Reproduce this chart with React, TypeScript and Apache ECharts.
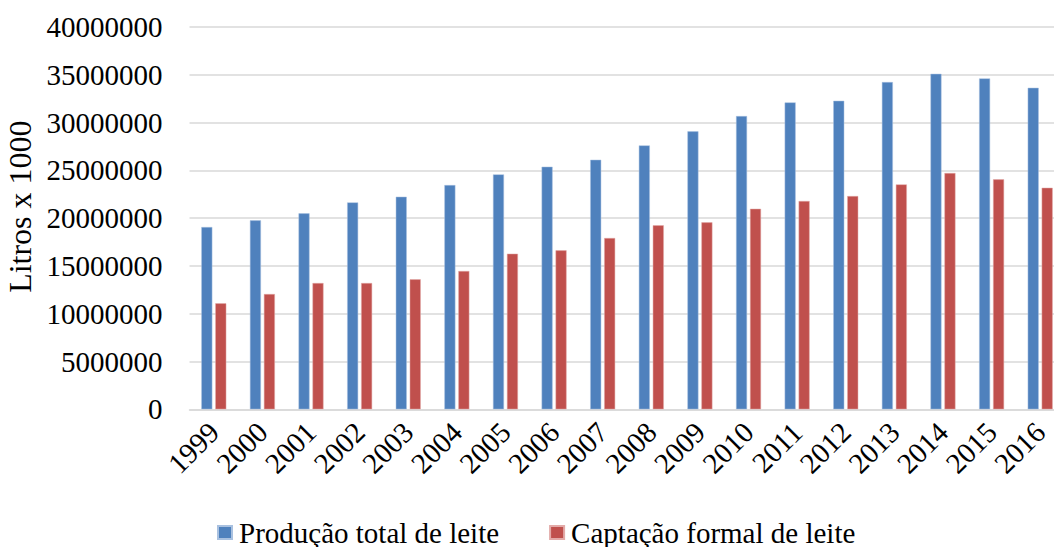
import React, { useEffect, useRef } from "react";
import * as echarts from "echarts";

const years = ["1999","2000","2001","2002","2003","2004","2005","2006","2007","2008","2009","2010","2011","2012","2013","2014","2015","2016"];
const producaoTotal = [19070000,19770000,20500000,21650000,22240000,23460000,24580000,25380000,26110000,27610000,29080000,30680000,32110000,32280000,34240000,35100000,34620000,33640000];
const captacaoFormal = [11090000,12060000,13210000,13210000,13600000,14470000,16280000,16630000,17920000,19250000,19560000,20980000,21790000,22310000,23530000,24720000,24060000,23180000];
const seriesNames = ["Produção total de leite", "Captação formal de leite"];
const yAxisName = "Litros x 1000";

export default function App() {
  const ref = useRef<HTMLDivElement>(null);
  useEffect(() => {
    if (!ref.current) return;
    const chart = echarts.init(ref.current, null, { renderer: "svg" });
    const font = "'Liberation Serif', 'Times New Roman', serif";
    chart.setOption({
      animation: false,
      textStyle: { fontFamily: font },
      grid: { left: 189.5, top: 27, width: 875, bottom: 137.7, containLabel: false, outerBoundsMode: "none" },
      legend: {
        left: 217,
        top: 518,
        padding: 0,
        itemWidth: 14,
        itemHeight: 13,
        itemGap: 50,
        icon: "rect",
        textStyle: { fontFamily: font, fontSize: 29, color: "#000", padding: [0, 0, 0, 2] },
        data: seriesNames,
      },
      xAxis: {
        type: "category",
        data: years,
        axisLine: { show: true, lineStyle: { color: "#d9d9d9", width: 1.5 } },
        axisTick: { show: false },
        axisLabel: { rotate: 45, fontFamily: font, fontSize: 29, color: "#000", margin: 18, interval: 0 },
      },
      yAxis: {
        type: "value",
        min: 0,
        max: 40000000,
        interval: 5000000,
        name: yAxisName,
        nameLocation: "middle",
        nameGap: 153,
        nameRotate: 90,
        nameTextStyle: { fontFamily: font, fontSize: 32, color: "#000", padding: [0, 0, 0, 23] },
        axisLine: { show: false },
        axisTick: { show: false },
        axisLabel: { fontFamily: font, fontSize: 29, color: "#000", margin: 27, formatter: (v: number) => String(v) },
        splitLine: { lineStyle: { color: "#d9d9d9", width: 1.5 } },
      },
      series: [
        {
          name: seriesNames[0],
          type: "bar",
          data: producaoTotal,
          barWidth: 11,
          barGap: "27%",
          itemStyle: { color: "#4F81BD", borderColor: "#a9c1e0", borderWidth: 0.5 },
        },
        {
          name: seriesNames[1],
          type: "bar",
          data: captacaoFormal,
          barWidth: 11,
          itemStyle: { color: "#C0504D", borderColor: "#e3aaa8", borderWidth: 0.5 },
        },
      ],
    });
    return () => chart.dispose();
  }, []);
  return <div ref={ref} style={{ width: 1054, height: 547, position: "absolute", left: 0, top: 0 }} />;
}
